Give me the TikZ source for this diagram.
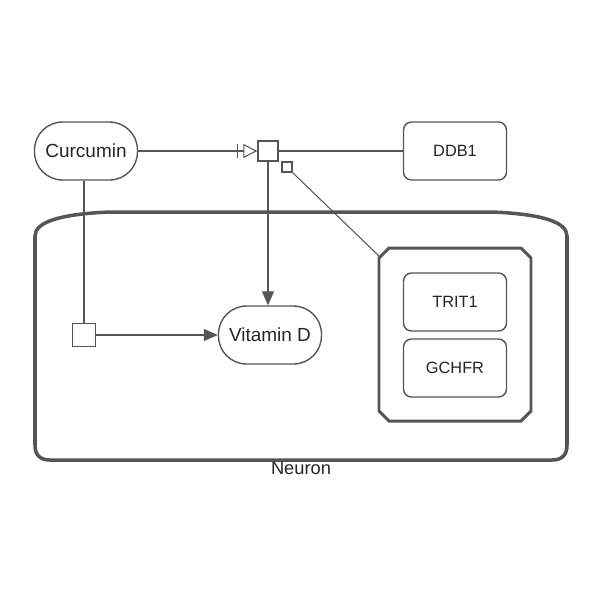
\documentclass[tikz,border=0pt]{standalone}
\usepackage{fontspec}
\setmainfont{Liberation Sans}
\usetikzlibrary{arrows.meta}

\definecolor{linegray}{RGB}{85,85,85}

\tikzset{
  entity/.style={draw=linegray,line width=0.8pt,fill=white,
    minimum width=2.06cm,minimum height=1.16cm,inner sep=0pt},
  chem/.style={entity,rounded corners=0.56cm,font=\fontsize{10.8}{12}\selectfont},
  macro/.style={entity,rounded corners=0.16cm,font=\fontsize{9.3}{11}\selectfont},
  procbox/.style={draw=linegray,line width=0.8pt,fill=white,minimum size=0.4cm,inner sep=0pt},
  portbox/.style={procbox,minimum size=0.2cm},
  link/.style={draw=linegray,line width=0.6pt},
  stim/.style={link,-{Triangle[length=0.28cm,width=0.24cm]}},
  needstim/.style={link,-{Bar[width=0.28cm,line width=1pt,sep=0.1cm]Triangle[open,length=0.28cm,width=0.28cm]}},
}

\begin{document}
\begin{tikzpicture}[x=0.02cm,y=-0.02cm,
    every node/.append style={text=black!85}]
  \useasboundingbox (0,0) rectangle (600,600);

  % compartment
  \draw[linegray,line width=2pt,fill=white]
    (35,445) -- (35,236) .. controls (35,222) and (60,214) .. (110,212)
    -- (492,212) .. controls (542,214) and (567,222) .. (567,236)
    -- (567,445) .. controls (567,455) and (562,460) .. (552,460)
    -- (50,460) .. controls (40,460) and (35,455) .. (35,445) -- cycle;
  \node[font=\fontsize{10.4}{12}\selectfont] (neuron) at (301,468) {Neuron};

  % complex
  \draw[linegray,line width=1.7pt,fill=white]
    (379,258) -- (389,248) -- (521,248) -- (531,258) -- (531,411)
    -- (521,421) -- (389,421) -- (379,411) -- cycle;
  \coordinate (cplx) at (380,257);
  \node[macro] (trit) at (455,302) {TRIT1};
  \node[macro] (gchfr) at (455,368) {GCHFR};

  % entities
  \node[chem] (curcumin) at (86,151) {Curcumin};
  \node[chem] (vitd) at (270,335) {Vitamin D};
  \node[macro] (ddb) at (455,151) {DDB1};
  \node[procbox] (proc1) at (268,151) {};
  \node[portbox] (port1) at (287,167) {};
  \node[procbox,minimum size=0.47cm] (proc2) at (84,335) {};

  % connectors
  \draw[needstim] (curcumin) -- (proc1);
  \draw[link] (proc1) -- (ddb);
  \draw[link] (port1.south east) -- (cplx);
  \draw[stim] (proc1.south) -- (proc1.south |- vitd.north);
  \draw[link] (curcumin.south -| proc2.north) -- (proc2.north);
  \draw[stim] (proc2) -- (vitd);
\end{tikzpicture}
\end{document}
